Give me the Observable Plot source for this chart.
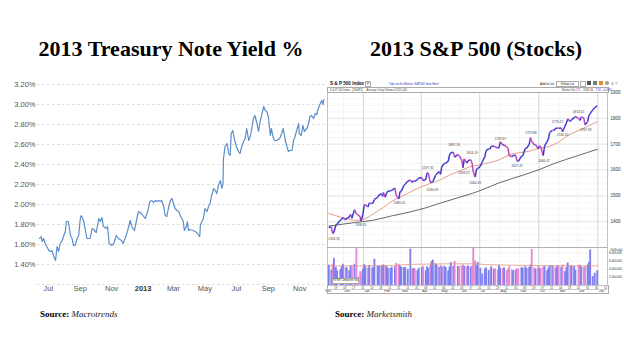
<!DOCTYPE html>
<html><head><meta charset="utf-8">
<script src="https://cdn.jsdelivr.net/npm/d3@7"></script>
<script src="https://cdn.jsdelivr.net/npm/@observablehq/plot@0.6"></script>
<style>
body{margin:0;width:624px;height:351px;background:#fff;position:relative;overflow:hidden;font-family:"Liberation Sans",Arial,sans-serif;}
.abs{position:absolute;white-space:nowrap;}
.title{font-family:"Liberation Serif","Times New Roman",serif;font-weight:bold;font-size:22px;line-height:22px;color:#000;transform:translateX(-50%);}
.src{font-family:"Liberation Serif","Times New Roman",serif;font-size:9px;line-height:9px;color:#000;}
.src b{font-weight:bold}.src i{font-style:italic;color:#222}
.tiny{font-size:4.5px;line-height:5px;color:#111;}
.box{border:0.5px solid #aaa;background:#fff;}
svg{display:block}
</style></head><body>
<div class="abs title" style="left:171px;top:38px">2013 Treasury Note Yield %</div>
<div class="abs title" style="left:476px;top:38px">2013 S&amp;P 500 (Stocks)</div>
<div id="left" class="abs" style="left:10px;top:75px"></div>
<div id="price" class="abs" style="left:326px;top:89px"></div>
<div id="vol" class="abs" style="left:326px;top:247px"></div>

<!-- MarketSmith header -->
<div class="abs tiny" style="left:330px;top:81px;font-weight:bold;font-size:4.6px">S &amp; P 500 Index</div>
<div class="abs box tiny" style="left:365px;top:81px;width:4px;height:4px;font-size:3px;line-height:4px;text-align:center">P</div>
<div class="abs tiny" style="left:389px;top:82px;font-size:2.8px;color:#2233cc">Take on the Market: S&amp;P500 View Here!</div>
<div class="abs tiny" style="left:540px;top:82px;font-size:3px">Add to List</div>
<div class="abs box tiny" style="left:556px;top:81px;width:21px;height:4px;font-size:2.8px;line-height:4px;text-align:center">Follow List</div>
<div class="abs box" style="left:580px;top:81px;width:4px;height:4px"></div>
<div class="abs" style="left:587px;top:81px;width:4px;height:4px;background:#555"></div>
<div class="abs" style="left:593px;top:81px;width:4px;height:4px;background:#777"></div>
<div class="abs" style="left:599px;top:81px;width:4px;height:4px;background:#f08a24"></div>
<div class="abs" style="left:605px;top:81px;width:4px;height:4px;border-radius:2px;background:#999"></div>
<div class="abs tiny" style="left:611px;top:81px;font-size:4px;color:#666">&#9990; ?</div>
<div class="abs box" style="left:327px;top:87px;width:280px;height:4px"></div>
<div class="abs tiny" style="left:330px;top:87.5px;font-size:2.8px;color:#444">S &amp; P 500 Index &nbsp;&nbsp;[0S&amp;P5] &nbsp;&nbsp;&nbsp; Average Daily Volume 3,355,100</div>
<div class="abs tiny" style="left:562px;top:87.5px;font-size:2.8px;color:#444">Market Val <span style="color:#9933cc">275</span> &nbsp; 1848.36 &nbsp; <span style="color:#2233cc">7.31</span> &nbsp;<span style="color:#2233cc">+0.40%</span></div>
<div class="abs box tiny" style="left:332px;top:278px;width:25px;height:4px;font-size:2.6px;line-height:4px;text-align:center;color:#333">NYSE Composite Vol</div>

<div class="abs src" style="left:40px;top:310px"><b>Source:</b> <i>Macrotrends</i></div>
<div class="abs src" style="left:335px;top:310px"><b>Source:</b> <i>Marketsmith</i></div>

<script>
// ---------------- Left chart: 10-year Treasury yield (%) ----------------
const yieldSeries = [
["2012-06-14",1.66],["2012-06-17",1.68],["2012-06-19",1.63],["2012-06-22",1.66],["2012-06-25",1.61],["2012-06-28",1.58],
["2012-07-02",1.54],["2012-07-05",1.53],["2012-07-08",1.54],["2012-07-11",1.49],["2012-07-15",1.44],["2012-07-18",1.58],
["2012-07-21",1.53],["2012-07-24",1.61],["2012-07-28",1.64],["2012-07-31",1.69],["2012-08-03",1.73],["2012-08-05",1.83],
["2012-08-09",1.83],["2012-08-13",1.69],["2012-08-16",1.66],["2012-08-19",1.59],["2012-08-22",1.59],["2012-08-26",1.66],
["2012-08-29",1.69],["2012-09-01",1.86],["2012-09-03",1.89],["2012-09-08",1.83],["2012-09-11",1.74],["2012-09-14",1.66],
["2012-09-20",1.66],["2012-09-24",1.76],["2012-09-27",1.75],["2012-10-02",1.72],["2012-10-07",1.86],["2012-10-10",1.83],
["2012-10-13",1.87],["2012-10-16",1.78],["2012-10-21",1.76],["2012-10-24",1.78],["2012-10-27",1.61],["2012-11-01",1.59],
["2012-11-05",1.61],["2012-11-10",1.69],["2012-11-14",1.66],["2012-11-20",1.64],["2012-11-23",1.61],["2012-11-27",1.66],
["2012-12-02",1.74],["2012-12-07",1.84],["2012-12-10",1.78],["2012-12-15",1.74],["2012-12-20",1.86],["2012-12-23",1.93],
["2012-12-26",1.92],["2012-12-30",1.90],["2013-01-02",1.88],["2013-01-05",1.86],["2013-01-10",1.93],["2013-01-14",2.03],
["2013-01-18",2.04],["2013-01-21",2.02],["2013-01-25",2.04],["2013-01-28",2.03],["2013-01-31",2.04],["2013-02-03",2.03],
["2013-02-06",2.04],["2013-02-10",1.98],["2013-02-13",1.89],["2013-02-16",1.88],["2013-02-19",1.96],["2013-02-23",2.04],
["2013-02-26",2.06],["2013-03-01",2.01],["2013-03-04",1.96],["2013-03-08",1.94],["2013-03-11",1.93],["2013-03-14",1.89],
["2013-03-17",1.86],["2013-03-20",1.83],["2013-03-22",1.74],["2013-03-26",1.78],["2013-03-28",1.83],["2013-03-30",1.74],
["2013-04-02",1.75],["2013-04-08",1.74],["2013-04-12",1.73],["2013-04-15",1.72],["2013-04-19",1.69],["2013-04-21",1.68],
["2013-04-22",1.79],["2013-04-25",1.83],["2013-04-28",1.86],["2013-05-01",1.96],["2013-05-05",1.93],["2013-05-08",1.98],
["2013-05-11",2.01],["2013-05-14",2.09],["2013-05-18",2.16],["2013-05-21",2.14],["2013-05-24",2.11],["2013-05-27",2.19],
["2013-05-31",2.24],["2013-06-03",2.16],["2013-06-05",2.21],["2013-06-06",2.46],["2013-06-09",2.58],["2013-06-13",2.61],
["2013-06-16",2.51],["2013-06-19",2.49],["2013-06-21",2.71],["2013-06-24",2.74],["2013-06-27",2.66],["2013-07-01",2.58],
["2013-07-05",2.53],["2013-07-08",2.51],["2013-07-12",2.59],["2013-07-15",2.63],["2013-07-18",2.66],["2013-07-21",2.76],
["2013-07-25",2.64],["2013-07-28",2.68],["2013-07-31",2.76],["2013-08-03",2.86],["2013-08-06",2.89],["2013-08-10",2.81],
["2013-08-13",2.73],["2013-08-16",2.83],["2013-08-19",2.89],["2013-08-23",2.98],["2013-08-26",2.94],["2013-08-29",2.93],
["2013-09-01",2.88],["2013-09-05",2.69],["2013-09-07",2.76],["2013-09-10",2.68],["2013-09-13",2.64],["2013-09-17",2.64],
["2013-09-23",2.66],["2013-09-27",2.71],["2013-09-30",2.76],["2013-10-04",2.64],["2013-10-07",2.58],["2013-10-10",2.53],
["2013-10-13",2.54],["2013-10-17",2.54],["2013-10-20",2.64],["2013-10-23",2.68],["2013-10-26",2.74],["2013-10-30",2.81],
["2013-10-31",2.71],["2013-11-04",2.69],["2013-11-07",2.79],["2013-11-10",2.73],["2013-11-15",2.76],["2013-11-18",2.81],
["2013-11-21",2.88],["2013-11-24",2.89],["2013-11-28",2.86],["2013-12-01",2.91],["2013-12-04",2.90],["2013-12-07",2.96],
["2013-12-11",3.01],["2013-12-14",3.04],["2013-12-16",3.00],["2013-12-18",3.05]
];
const yieldTicks = [1.4,1.6,1.8,2.0,2.2,2.4,2.6,2.8,3.0,3.2];
const yieldGrid = [1.2,1.4,1.6,1.8,2.0,2.2,2.4,2.6,2.8,3.0,3.2];
const monthTickDates = ["2012-07-01","2012-09-01","2012-11-01","2013-03-01","2013-05-01","2013-07-01","2013-09-01","2013-11-01"];
const monthTickLabels = ["Jul","Sep","Nov","Mar","May","Jul","Sep","Nov"];
const yearTickDates = ["2013-01-01"];
const yearTickLabels = ["2013"];

// ---------------- Right chart: S&P 500 (date, close, volume in millions) ----------------
const spSeries = [
["2012-11-08",1377,5.0],["2012-11-12",1380,3.8],["2012-11-14",1355,5.2],["2012-11-16",1359,6.6],["2012-11-19",1387,4.4],
["2012-11-21",1391,3.6],["2012-11-26",1406,3.9],["2012-11-28",1409,4.6],["2012-11-30",1416,5.2],["2012-12-04",1407,4.4],
["2012-12-06",1413,4.3],["2012-12-10",1418,3.6],["2012-12-12",1428,4.8],["2012-12-14",1413,4.8],["2012-12-18",1446,5.2],
["2012-12-21",1430,9.0],["2012-12-24",1426,2.1],["2012-12-27",1418,3.4],["2012-12-28",1402,3.0],["2012-12-31",1426,4.0],
["2013-01-02",1462,5.1],["2013-01-04",1466,4.6],["2013-01-08",1457,4.2],["2013-01-10",1472,4.9],["2013-01-14",1470,4.2],
["2013-01-16",1472,4.4],["2013-01-18",1486,6.4],["2013-01-23",1494,4.6],["2013-01-25",1503,4.8],["2013-01-29",1508,4.6],
["2013-01-31",1498,5.0],["2013-02-01",1513,5.0],["2013-02-04",1495,4.7],["2013-02-06",1512,4.6],["2013-02-08",1518,4.2],
["2013-02-12",1520,4.2],["2013-02-14",1521,4.5],["2013-02-19",1530,4.6],["2013-02-21",1502,5.4],["2013-02-25",1488,5.2],
["2013-02-27",1516,4.7],["2013-03-01",1518,4.4],["2013-03-05",1540,4.4],["2013-03-07",1545,4.4],["2013-03-11",1557,3.9],
["2013-03-15",1561,8.9],["2013-03-18",1552,4.0],["2013-03-20",1558,4.2],["2013-03-22",1556,4.0],["2013-03-26",1563,3.6],
["2013-03-28",1569,4.2],["2013-04-02",1570,4.4],["2013-04-04",1559,4.7],["2013-04-08",1563,3.6],["2013-04-10",1588,4.6],
["2013-04-12",1588,4.2],["2013-04-15",1552,5.0],["2013-04-17",1553,5.8],["2013-04-19",1555,6.2],["2013-04-23",1578,5.3],
["2013-04-25",1585,5.0],["2013-04-29",1594,4.4],["2013-05-01",1583,4.9],["2013-05-03",1614,4.6],["2013-05-07",1625,4.7],
["2013-05-09",1627,4.4],["2013-05-13",1633,3.6],["2013-05-15",1658,4.5],["2013-05-17",1667,5.6],["2013-05-21",1669,4.7],
["2013-05-23",1650,5.9],["2013-05-28",1660,4.7],["2013-05-30",1655,4.6],["2013-06-03",1640,4.8],["2013-06-05",1609,5.0],
["2013-06-07",1643,4.7],["2013-06-11",1627,4.6],["2013-06-13",1636,4.8],["2013-06-17",1640,4.5],["2013-06-19",1628,4.8],
["2013-06-21",1593,9.3],["2013-06-24",1573,6.0],["2013-06-26",1603,4.9],["2013-06-28",1606,5.6],["2013-07-02",1614,4.2],
["2013-07-05",1632,2.8],["2013-07-09",1652,4.0],["2013-07-11",1675,4.3],["2013-07-15",1682,3.6],["2013-07-17",1681,3.8],
["2013-07-19",1692,4.6],["2013-07-23",1692,4.0],["2013-07-25",1690,4.1],["2013-07-29",1685,3.8],["2013-07-31",1686,4.9],
["2013-08-02",1709,4.2],["2013-08-06",1697,4.1],["2013-08-08",1697,4.3],["2013-08-12",1689,3.6],["2013-08-14",1685,4.0],
["2013-08-16",1655,4.6],["2013-08-20",1652,3.8],["2013-08-22",1656,3.6],["2013-08-26",1657,3.8],["2013-08-28",1635,4.1],
["2013-08-30",1633,4.0],["2013-09-04",1653,4.4],["2013-09-06",1655,4.2],["2013-09-10",1684,4.6],["2013-09-12",1684,4.2],
["2013-09-16",1698,4.4],["2013-09-18",1725,5.0],["2013-09-20",1710,8.8],["2013-09-24",1698,4.3],["2013-09-26",1698,4.0],
["2013-09-30",1682,4.6],["2013-10-02",1694,4.2],["2013-10-04",1690,4.2],["2013-10-08",1656,4.5],["2013-10-10",1693,4.6],
["2013-10-14",1710,3.6],["2013-10-16",1721,4.3],["2013-10-18",1745,4.9],["2013-10-22",1754,4.9],["2013-10-24",1753,4.5],
["2013-10-28",1762,4.3],["2013-10-30",1763,4.9],["2013-11-01",1762,4.6],["2013-11-05",1763,4.4],["2013-11-07",1748,5.0],
["2013-11-11",1771,3.4],["2013-11-13",1782,4.4],["2013-11-15",1798,5.5],["2013-11-19",1788,4.8],["2013-11-21",1795,4.8],
["2013-11-25",1802,4.6],["2013-11-27",1807,3.7],["2013-12-02",1800,4.9],["2013-12-04",1792,5.0],["2013-12-06",1805,4.6],
["2013-12-10",1802,4.4],["2013-12-12",1775,4.6],["2013-12-16",1787,5.0],["2013-12-18",1811,5.6],["2013-12-20",1818,8.7],
["2013-12-24",1833,2.2],["2013-12-27",1841,3.0],["2013-12-31",1848,3.6]
];
const ma50Series = [
["2012-11-08",1432],["2012-11-20",1422],["2012-12-05",1412],["2012-12-20",1405],["2013-01-02",1410],["2013-01-15",1428],
["2013-02-01",1455],["2013-02-15",1480],["2013-03-01",1497],["2013-03-15",1515],["2013-04-01",1535],["2013-04-15",1548],
["2013-05-01",1562],["2013-05-15",1580],["2013-06-01",1597],["2013-06-15",1612],["2013-07-01",1620],["2013-07-15",1628],
["2013-08-01",1640],["2013-08-15",1658],["2013-09-01",1667],["2013-09-15",1672],["2013-10-01",1684],["2013-10-15",1690],
["2013-11-01",1708],["2013-11-15",1733],["2013-12-01",1752],["2013-12-15",1768],["2013-12-31",1786]
];
const ma200Series = [
["2012-11-08",1383],["2012-12-20",1397],["2013-01-15",1405],["2013-02-15",1423],["2013-03-15",1438],["2013-04-10",1455],
["2013-05-01",1472],["2013-05-30",1494],["2013-06-25",1514],["2013-07-31",1550],["2013-09-05",1579],["2013-09-30",1600],
["2013-10-25",1625],["2013-11-30",1655],["2013-12-31",1680]
];
const volAvgSeries = [
["2012-11-08",4.8],["2012-12-31",4.8],["2013-02-15",4.9],["2013-03-20",5.2],["2013-05-15",5.3],["2013-06-28",5.3],
["2013-07-10",5.1],["2013-09-15",4.9],["2013-11-15",4.8],["2013-12-31",4.8]
];
const highNotes = [
["2013-04-11",1597.35,"1597.35"],["2013-05-22",1687.18,"1687.18"],["2013-06-19",1654.19,"1654.19"],
["2013-08-02",1709.67,"1709.67"],["2013-09-19",1729.86,"1729.86"],["2013-10-30",1775.22,"1775.22"],
["2013-12-02",1813.55,"1813.55"]
];
const lowNotes = [
["2012-11-16",1343.35,"1343.35"],["2012-12-28",1398.11,"1398.11"],["2013-02-26",1485.01,"1485.01"],
["2013-04-18",1536.03,"1536.03"],["2013-06-06",1598.23,"1598.23"],["2013-06-24",1560.33,"1560.33"],
["2013-08-28",1627.47,"1627.47"],["2013-10-09",1646.47,"1646.47"],["2013-11-07",1746.20,"1746.20"],
["2013-12-13",1767.99,"1767.99"]
];
const priceTicks = [1400,1500,1600,1700,1800,1900];
const volTicks = [2,4,6,8];
const volTickLabels = ["2,000,000","4,000,000","6,000,000","8,000,000"];
const spMonthDates = ["2012-11-01","2012-12-01","2013-01-01","2013-02-01","2013-03-01","2013-04-01","2013-05-01","2013-06-01","2013-07-01","2013-08-01","2013-09-01","2013-10-01","2013-11-01","2013-12-01","2014-01-01"];
const spMonthLabels = ["Nov","Dec","Jan","Feb","Mar","Apr","May","Jun","Jul","Aug","Sep","Oct","Nov","Dec","Jan"];

// ---------------- Build left chart ----------------
const P = d => new Date(d);
const yData = yieldSeries.map(([d, v]) => ({date: P(d), value: v}));
const mTicks = monthTickDates.map((d, i) => ({date: P(d), label: monthTickLabels[i]}));
const yrTicks = yearTickDates.map((d, i) => ({date: P(d), label: yearTickLabels[i]}));

const left = Plot.plot({
  width: 320, height: 222,
  marginLeft: 27, marginRight: 5, marginTop: 9, marginBottom: 13,
  style: {fontFamily: "'Liberation Sans', Arial, sans-serif", fontSize: "7.5px", color: "#555", background: "transparent", overflow: "visible"},
  x: {type: "utc", domain: [P("2012-06-10"), P("2013-12-21")], axis: null, label: null},
  y: {domain: [1.2, 3.2], axis: null, label: null},
  marks: [
    Plot.ruleY(yieldGrid, {stroke: "#d4d4d4", strokeDasharray: "2.5,2.5", strokeWidth: 0.8}),
    Plot.axisY(yieldTicks, {tickSize: 0, tickPadding: 2, label: null, tickFormat: d => d.toFixed(2) + "%", fill: "#555", fontSize: 7.5}),
    Plot.line(yData, {x: "date", y: "value", stroke: "#5b8dc9", strokeWidth: 1.2}),
    Plot.text(mTicks, {x: "date", text: "label", frameAnchor: "bottom", dy: 6.5, fill: "#555", fontSize: 7.5}),
    Plot.text(yrTicks, {x: "date", text: "label", frameAnchor: "bottom", dy: 6.5, fill: "#333", fontSize: 7.5, fontWeight: "bold"})
  ]
});
document.getElementById("left").append(left);

// ---------------- Build right chart (price panel) ----------------
const sp = spSeries.map(([d, c, v], i) => ({date: P(d), close: c, vol: v}));
sp.forEach((r, i) => {
  const prev = i > 0 ? sp[i - 1] : r;
  r.prevDate = prev.date; r.prevClose = prev.close;
  r.up = i === 0 ? true : r.close >= prev.close;
});
const ma50 = ma50Series.map(([d, v]) => ({date: P(d), value: v}));
const ma200 = ma200Series.map(([d, v]) => ({date: P(d), value: v}));
const highs = highNotes.map(([d, v, t]) => ({date: P(d), value: v, label: t}));
const lows = lowNotes.map(([d, v, t]) => ({date: P(d), value: v, label: t}));
const xDom = [P("2012-11-06"), P("2014-01-16")];
const months = d3.utcMonth.range(P("2012-12-01"), P("2014-01-15"));
const quarters = d3.utcMonth.every(3).range(P("2013-01-01"), P("2014-01-15"));
const font = "'Liberation Sans', Arial, sans-serif";

const price = Plot.plot({
  width: 296, height: 158,
  marginLeft: 1, marginRight: 15, marginTop: 3, marginBottom: 0,
  style: {fontFamily: font, fontSize: "4.5px", color: "#333", background: "transparent", overflow: "visible"},
  x: {type: "utc", domain: xDom, axis: null, label: null},
  y: {domain: [1300, 1900], axis: null, label: null},
  marks: [
    Plot.ruleY(d3.range(1325, 1900, 25), {stroke: "#eeeeee", strokeWidth: 0.5}),
    Plot.ruleY(priceTicks, {stroke: "#d9d9d9", strokeWidth: 0.6}),
    Plot.ruleX(months, {stroke: "#e8e8e8", strokeWidth: 0.5}),
    Plot.ruleX(quarters, {stroke: "#cccccc", strokeWidth: 0.7}),
    Plot.frame({stroke: "#aaaaaa", strokeWidth: 0.7}),
    Plot.axisY(priceTicks, {anchor: "right", label: null, tickSize: 0, tickPadding: 3, tickFormat: d => String(d), fontSize: 4.5, fill: "#333"}),
    Plot.line(ma200, {x: "date", y: "value", stroke: "#555555", strokeWidth: 0.9, curve: "monotone-x"}),
    Plot.line(ma50, {x: "date", y: "value", stroke: "#e0927a", strokeWidth: 0.9, curve: "monotone-x"}),
    Plot.link(sp.slice(1), {x1: "prevDate", y1: "prevClose", x2: "date", y2: "close",
      stroke: d => d.up ? "#3d3dcc" : "#c444c0", strokeWidth: 1.5}),
    Plot.text(highs, {x: "date", y: "value", text: "label", dy: -3, fontSize: 3.2, fill: "#444"}),
    Plot.text(lows, {x: "date", y: "value", text: "label", dy: 3, fontSize: 3.2, fill: "#444"})
  ]
});
document.getElementById("price").append(price);

// ---------------- Volume panel + date axis ----------------
const volAvg = volAvgSeries.map(([d, v]) => ({date: P(d), value: v}));
const spMonths = spMonthDates.map((d, i) => ({date: P(d), label: spMonthLabels[i]}));
const vol = Plot.plot({
  width: 296, height: 47,
  marginLeft: 1, marginRight: 15, marginTop: 0, marginBottom: 9,
  style: {fontFamily: font, fontSize: "3.2px", color: "#333", background: "transparent", overflow: "visible"},
  x: {type: "utc", domain: xDom, axis: null, label: null},
  y: {domain: [0, 9.3], axis: null, label: null},
  marks: [
    Plot.ruleX(months, {stroke: "#e8e8e8", strokeWidth: 0.5}),
    Plot.ruleX(quarters, {stroke: "#cccccc", strokeWidth: 0.7}),
    Plot.ruleY(volTicks, {stroke: "#eeeeee", strokeWidth: 0.5}),
    Plot.ruleX(sp, {x: "date", y1: 0, y2: "vol", stroke: d => d.up ? "#7f7fee" : "#e48ad6", strokeWidth: 1.9}),
    Plot.line(volAvg, {x: "date", y: "value", stroke: "#e0927a", strokeWidth: 0.8}),
    Plot.frame({stroke: "#aaaaaa", strokeWidth: 0.7}),
    Plot.axisY(volTicks, {anchor: "right", label: null, tickSize: 0, tickPadding: 1.5, tickFormat: d => volTickLabels[volTicks.indexOf(d)], fontSize: 2.9, fill: "#333"}),
    Plot.text(["Vol(Daily)"], {frameAnchor: "top-right", dx: 15, dy: 1.5, textAnchor: "end", fontSize: 2.9, fill: "#333"}),
    Plot.axisX({anchor: "bottom", label: null, ticks: d3.utcMonday.every(2).range(P("2012-11-10"), P("2014-01-15")), tickFormat: "%d", tickSize: 0, tickPadding: 1, fontSize: 2.8, fill: "#444"}),
    Plot.text(spMonths, {x: "date", text: "label", frameAnchor: "bottom", dy: 6.8, dx: 1, textAnchor: "start", fontSize: 3.2, fill: "#333"})
  ]
});
document.getElementById("vol").append(vol);
</script>
<div class="abs" style="left:327px;top:285px;width:280px;height:8px;border:0.5px solid #aaa;border-top:none;pointer-events:none"></div>
<div class="abs" style="left:327px;top:289px;width:280px;height:0;border-top:0.5px solid #ccc"></div>
</body></html>
